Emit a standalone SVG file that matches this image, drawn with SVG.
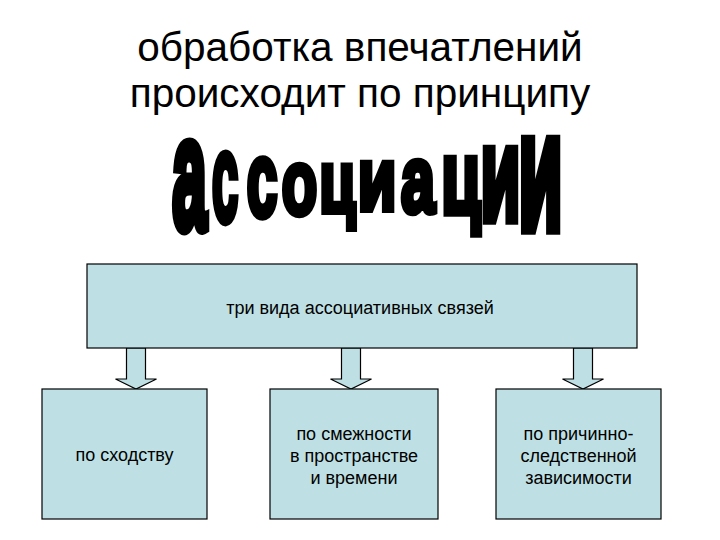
<svg xmlns="http://www.w3.org/2000/svg" width="720" height="540" viewBox="0 0 720 540">
<style>
.title{font-family:"Liberation Sans",Arial,sans-serif;font-size:40.5px;fill:#000;text-anchor:middle}
.wa{font-family:"Liberation Sans",Arial,sans-serif;font-weight:bold;font-size:100px;fill:#000;stroke:#000;stroke-width:7;stroke-linejoin:miter;text-anchor:middle}
.box{fill:#BEE0E4;stroke:#000;stroke-width:1.2}
.lbl{font-family:"Liberation Sans",Arial,sans-serif;font-size:18px;fill:#000;text-anchor:middle}
.arr{fill:#BEE0E4;stroke:#000;stroke-width:1.2;stroke-linejoin:miter}
</style>
<rect width="720" height="540" fill="#fff"/>
<g id="title">
<text class="title" x="360" y="61">обработка впечатлений</text>
<text class="title" x="360" y="107">происходит по принципу</text>
</g>
<g id="wordart">
<text class="wa" transform="translate(189.5,227.5) scale(0.62,1.58)">а</text>
<text class="wa" transform="translate(225,220.5) scale(0.47,1.25)">с</text>
<text class="wa" transform="translate(262,216.3) scale(0.55,1.05)">с</text>
<text class="wa" transform="translate(299.5,213.8) scale(0.58,0.91)">о</text>
<text class="wa" transform="translate(337.5,212) scale(0.59,0.87)">ц</text>
<text class="wa" transform="translate(377,209.9) scale(0.63,0.89)">и</text>
<text class="wa" transform="translate(418,211.7) scale(0.61,0.95)">а</text>
<text class="wa" transform="translate(461,213.4) scale(0.64,1.04)">ц</text>
<text class="wa" transform="translate(500.5,220.4) scale(0.65,1.33)">и</text>
<text class="wa" transform="translate(540.5,229.2) scale(0.72,1.67)">и</text>
</g>
<g id="connectors">
<polygon class="arr" points="126.5,348 145.5,348 145.5,379 156.5,379 136,389 115.5,379 126.5,379"/>
<polygon class="arr" points="341.5,348 360.5,348 360.5,379 371.5,379 351,389 330.5,379 341.5,379"/>
<polygon class="arr" points="573.5,348 592.5,348 592.5,379 603.5,379 583,389 562.5,379 573.5,379"/>
</g>
<g id="top">
<rect class="box" x="87" y="264" width="550" height="84"/>
<text class="lbl" x="360" y="314">три вида ассоциативных связей</text>
</g>
<g id="similarity">
<rect class="box" x="42" y="389" width="165" height="130"/>
<text class="lbl" x="124.5" y="461">по сходству</text>
</g>
<g id="contiguity">
<rect class="box" x="270" y="389" width="168" height="130"/>
<text class="lbl" x="354" y="440">по смежности</text>
<text class="lbl" x="354" y="462">в пространстве</text>
<text class="lbl" x="354" y="484">и времени</text>
</g>
<g id="causality">
<rect class="box" x="496" y="389" width="165" height="130"/>
<text class="lbl" x="578.5" y="440">по причинно-</text>
<text class="lbl" x="578.5" y="462">следственной</text>
<text class="lbl" x="578.5" y="484">зависимости</text>
</g>
</svg>
